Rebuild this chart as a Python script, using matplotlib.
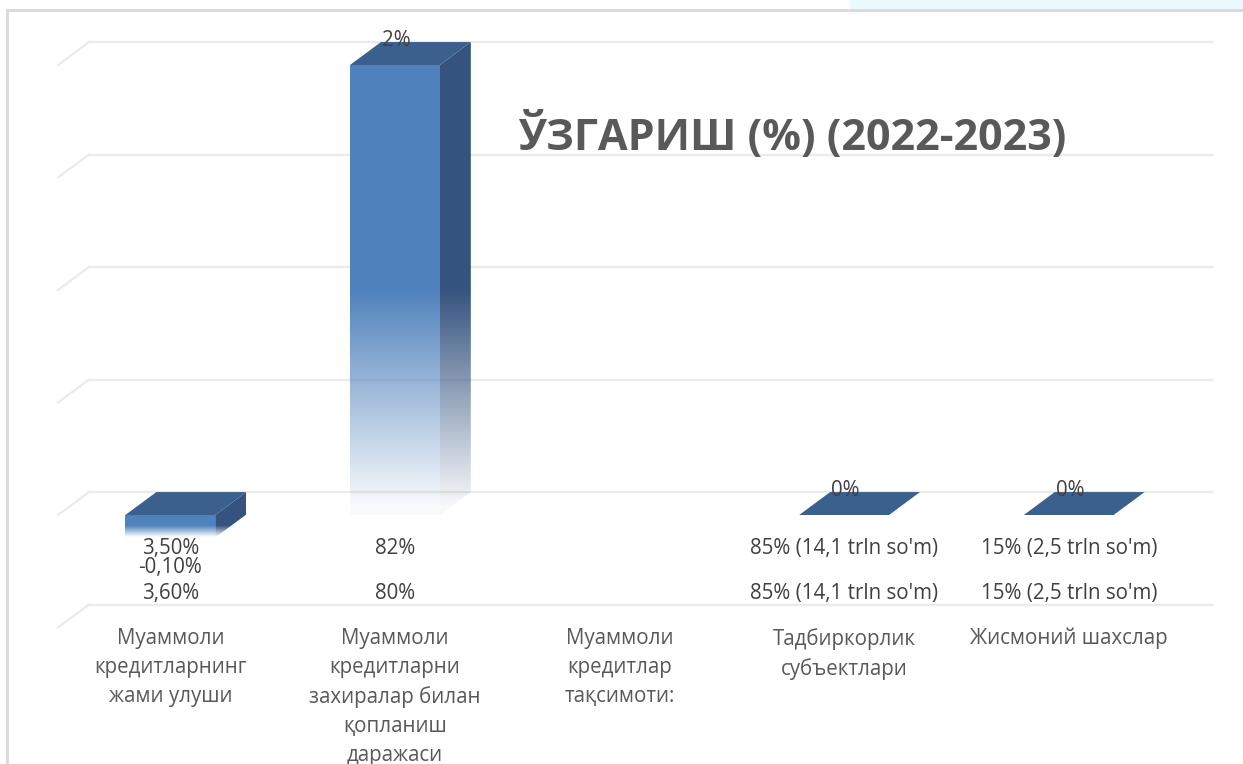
import numpy as np
import matplotlib
matplotlib.use('Agg')
import matplotlib.pyplot as plt
from matplotlib.patches import Polygon, Rectangle
from matplotlib.lines import Line2D

plt.rcParams['font.family'] = ['Open Sans', 'DejaVu Sans']

# ---------------- data ----------------
categories = ['Муаммоли\nкредитларнинг\nжами улуши',
              'Муаммоли\nкредитларни\nзахиралар билан\nқопланиш\nдаражаси',
              'Муаммоли\nкредитлар\nтақсимоти:',
              'Тадбиркорлик\nсубъектлари',
              'Жисмоний шахслар']
change = [-0.10, 2.0, None, 0.0, 0.0]          # change (%), 2022-2023
change_labels = ['-0,10%', '2%', '', '0%', '0%']
labels_2023 = ['3,50%', '82%', '', "85% (14,1 trln so'm)", "15% (2,5 trln so'm)"]
labels_2022 = ['3,60%', '80%', '', "85% (14,1 trln so'm)", "15% (2,5 trln so'm)"]
grid_values = [-0.5, 0.0, 0.5, 1.0, 1.5, 2.0]
title = 'ЎЗГАРИШ (%) (2022-2023)'

# ---------------- styling ----------------
W, H = 1243, 764
front_col = (0.31, 0.506, 0.741)
side_col = (0.204, 0.329, 0.498)
top_col = (0.235, 0.376, 0.557)
grid_col = '#EBEBEB'
text_col = '#404040'
cat_col = '#595959'
fs = 14.8

bar_w = 0.4
dx, dv = 0.138, 0.102          # oblique depth offset (category units, % units)

fig = plt.figure(figsize=(W / 100, H / 100), dpi=100)
fig.patch.set_facecolor('white')

# light background strip above the chart box (top right)
fig.patches.append(Rectangle((850 / W, 1 - 10 / H), 1 - 850 / W, 10 / H,
                             transform=fig.transFigure, facecolor='#EAF9FD',
                             edgecolor='none', zorder=0))

ax = fig.add_axes([0, 0, 1, 1])
ax.set_axis_off()

# chart box border
fig.lines.append(Line2D([7 / W, 7 / W], [0, 1 - 10 / H], transform=fig.transFigure,
                        color='#D9D9D9', lw=2, zorder=1))
fig.lines.append(Line2D([7 / W, 1], [1 - 10 / H, 1 - 10 / H], transform=fig.transFigure,
                        color='#D9D9D9', lw=2, zorder=1))

n = len(categories)

# back wall gridlines + floor diagonals
for g in grid_values:
    ax.plot([-0.5 + dx, n - 0.5 + dx], [g + dv, g + dv], color=grid_col, lw=1.6, zorder=1)
    ax.plot([-0.5, -0.5 + dx], [g, g + dv], color=grid_col, lw=1.6, zorder=1)


def gradient_face(pts, rgb, lo, hi, z):
    poly = Polygon(pts, closed=True, facecolor='none', edgecolor='none', zorder=z)
    ax.add_patch(poly)
    xs = [p[0] for p in pts]
    ys = [p[1] for p in pts]
    y0, y1 = min(ys), max(ys)
    yy = np.linspace(y0, y1, 300)
    span = max(hi - lo, 1e-6)
    alpha = np.clip((yy - lo) / (0.5 * span), 0.04, 1.0)
    img = np.zeros((300, 1, 4))
    img[..., 0], img[..., 1], img[..., 2] = rgb
    img[:, 0, 3] = alpha
    im = ax.imshow(img, extent=(min(xs), max(xs), y0, y1), origin='lower',
                   aspect='auto', interpolation='bilinear', zorder=z)
    im.set_clip_path(poly)


for i, v in enumerate(change):
    if v is None:
        continue
    x0, x1 = i - bar_w / 2, i + bar_w / 2
    lo, hi = min(v, 0), max(v, 0)
    if hi - lo > 0:
        gradient_face([(x0, lo), (x1, lo), (x1, hi), (x0, hi)], front_col, lo, hi, 3)
        gradient_face([(x1, lo), (x1 + dx, lo + dv), (x1 + dx, hi + dv), (x1, hi)],
                      side_col, lo, hi, 3)
    ax.add_patch(Polygon([(x0, hi), (x1, hi), (x1 + dx, hi + dv), (x0 + dx, hi + dv)],
                         closed=True, facecolor=top_col, edgecolor='none', zorder=4))

# change labels
for i, (v, lab) in enumerate(zip(change, change_labels)):
    if v is None or not lab:
        continue
    if v < 0:
        ax.annotate(lab, (i, v), xytext=(0, -30), textcoords='offset pixels',
                    ha='center', va='center', fontsize=fs, color=text_col, zorder=6)
    else:
        ax.annotate(lab, (i + dx / 2, v + dv), xytext=(-14, 2), textcoords='offset pixels',
                    ha='center', va='center', fontsize=fs, color=text_col, zorder=6)

# year labels (2023 upper row, 2022 lower row)
for i in range(n):
    ax.text(i, -0.148, labels_2023[i], ha='center', va='center',
            fontsize=fs, color=text_col, zorder=6)
    ax.text(i, -0.35, labels_2022[i], ha='center', va='center',
            fontsize=fs, color=text_col, zorder=6)

# category labels
for i, c in enumerate(categories):
    ax.text(i, -0.502, c, ha='center', va='top', fontsize=fs, color=cat_col,
            linespacing=1.5, zorder=6)

# title
ax.text(2.77, 1.683, title, ha='center', va='center', fontsize=31,
        fontweight='bold', color=cat_col, zorder=6)

# front plane: x -0.5 -> 58px, 4.5 -> 1181px ; y 0 -> 515px, 2 -> 65px
px_per_cat = (1181 - 58) / 5
px_per_val = 225.0
ax.set_xlim(-0.5 - 58 / px_per_cat, -0.5 + (W - 58) / px_per_cat)
ax.set_ylim((515 - H) / px_per_val, 515 / px_per_val)

fig.savefig('out.png', dpi=100, facecolor='white')
